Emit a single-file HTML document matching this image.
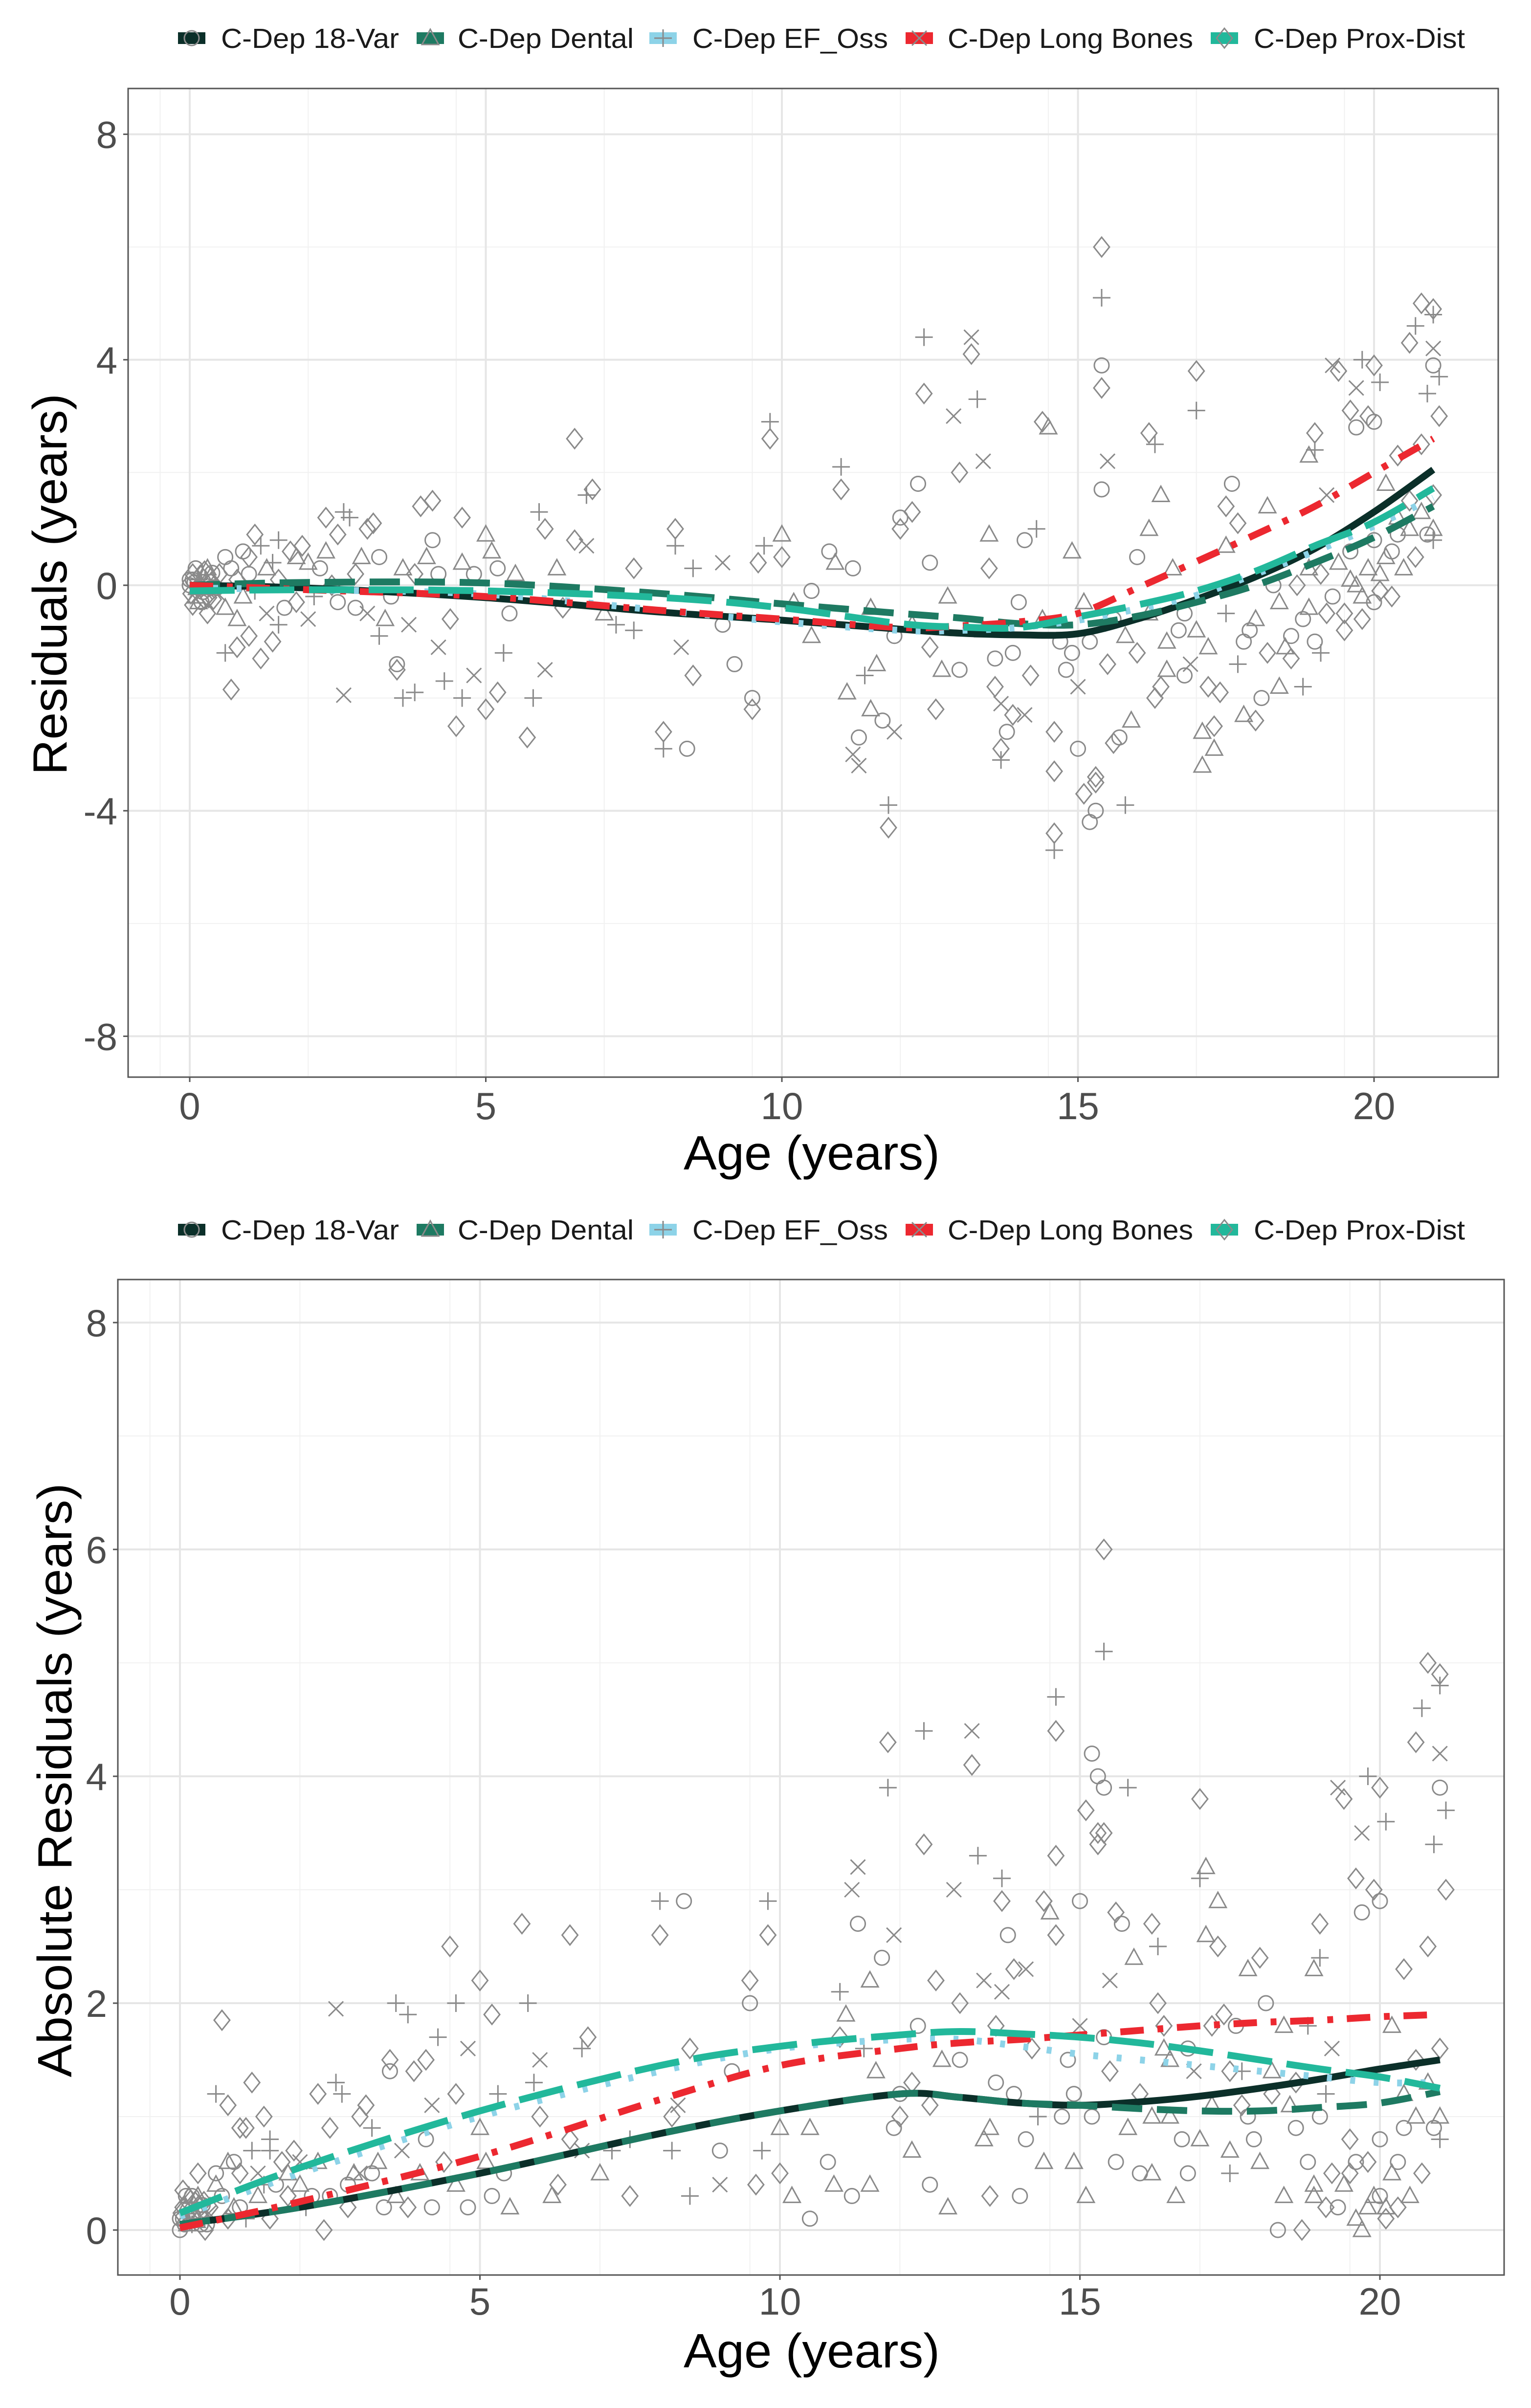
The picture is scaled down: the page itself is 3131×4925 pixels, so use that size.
<!DOCTYPE html>
<html><head><meta charset="utf-8">
<style>
html,body{margin:0;padding:0;background:#fff;}
svg{display:block;}
text{font-family:"Liberation Sans",Arial,sans-serif;}
</style></head>
<body>
<svg id="chart" xmlns="http://www.w3.org/2000/svg" width="3131" height="4925" viewBox="0 0 3131 4925">
<rect width="3131" height="4925" fill="#fff"/>
</svg>
<script>
// ---- data ----
const seriesNames = ["C-Dep 18-Var","C-Dep Dental","C-Dep EF_Oss","C-Dep Long Bones","C-Dep Prox-Dist"];
const seriesShapes = ["o","t","p","x","d"];
const fitAges = [0,2,5,8,10,12,13,14,15,16,17,18,19,20,21];
// top panel: smoothed residuals
const resid18Var   = [0,-0.05,-0.22,-0.48,-0.62,-0.78,-0.85,-0.88,-0.86,-0.6,-0.25,0.15,0.65,1.3,2.05];
const residDental  = [0,0.05,0.04,-0.15,-0.33,-0.5,-0.58,-0.68,-0.7,-0.55,-0.3,0.0,0.4,0.85,1.4];
const residEFOss   = [-0.05,-0.08,-0.16,-0.45,-0.65,-0.8,-0.8,-0.75,-0.62,-0.42,-0.18,0.2,0.6,1.05,1.55];
const residLong    = [0,-0.08,-0.2,-0.45,-0.6,-0.75,-0.72,-0.65,-0.5,-0.05,0.42,0.9,1.4,2.0,2.6];
const residProx    = [-0.1,-0.08,-0.1,-0.22,-0.4,-0.68,-0.74,-0.75,-0.56,-0.35,-0.1,0.25,0.7,1.12,1.72];
// bottom panel: smoothed absolute residuals
const abs18Var   = [0.05,0.2,0.5,0.85,1.05,1.2,1.17,1.12,1.1,1.13,1.18,1.25,1.33,1.42,1.5];
const absDental  = [0.05,0.2,0.5,0.85,1.05,1.2,1.17,1.12,1.1,1.07,1.05,1.05,1.08,1.12,1.22];
const absEFOss   = [0.12,0.5,1.0,1.4,1.6,1.68,1.68,1.62,1.55,1.5,1.45,1.4,1.35,1.3,1.3];
const absLong    = [0.02,0.25,0.65,1.15,1.45,1.6,1.65,1.68,1.72,1.76,1.8,1.83,1.85,1.88,1.9];
const absProx    = [0.15,0.55,1.05,1.45,1.62,1.72,1.75,1.73,1.7,1.65,1.58,1.5,1.42,1.35,1.25];
// scatter observations
const ptAge = [0,0.05,0.1,0.15,0.2,0.25,0.3,0.35,0.4,0.1,0.2,0.3,0.45,0.5,0.05,0.6,0.7,0.8,0.9,1.0,1.1,1.3,1.5,1.6,1.8,2.1,2.4,2.9,3.0,3.4,3.8,4.4,4.8,
0.7,0.6,0.8,1.0,1.2,1.4,1.5,1.3,1.0,1.2,1.5,1.7,2.0,2.2,2.3,2.5,2.6,2.7,2.6,3.0,3.1,3.2,3.3,3.5,3.5,3.6,3.8,3.9,4.1,4.0,4.2,4.3,4.5,4.6,4.6,4.8,5.0,5.2,5.3,5.1,5.0,5.2,5.7,5.8,5.9,6.0,6.0,6.5,6.5,6.7,6.8,6.7,7.2,7.5,7.5,8.0,8.0,8.4,8.2,8.2,8.5,8.5,8.3,9.0,9.2,9.5,9.5,9.6,9.7,9.8,9.8,10.0,10.0,10.5,10.9,10.8,11.0,11.0,11.1,11.2,11.3,11.3,11.4,11.5,11.6,11.7,11.8,11.8,11.9,12.0,12.0,12.2,12.4,12.4,12.3,12.5,12.6,12.8,12.9,13.0,13.2,13.2,13.3,13.4,13.5,13.5,13.6,13.6,13.7,13.7,13.7,13.8,13.9,14.1,14.2,14.1,14.3,14.4,14.5,14.6,14.6,14.6,14.6,14.9,14.9,15.0,15.0,15.1,15.2,15.3,15.3,15.3,15.4,15.4,15.4,15.4,15.4,15.5,15.6,15.7,15.8,15.9,16.0,16.2,16.2,16.3,16.4,16.3,16.5,16.6,16.8,16.9,17.0,17.0,17.1,17.1,17.3,17.3,17.4,17.5,17.6,17.7,17.8,18.0,18.1,18.3,18.5,18.6,18.8,18.9,19.0,19.0,19.2,19.3,19.4,19.6,19.7,19.7,19.8,19.9,20.0,20.0,20.1,20.0,20.1,20.2,20.4,20.4,20.6,20.7,20.8,20.8,20.9,21.0,21.0,21.0,21.0,21.1,21.1,21.0,21.0,19.5,19.2,19.8,18.8,18.9,19.6,20.3,20.6,17.9,17.2,16.7,15.8,14.7,14.0,12.2,12.7,10.2,9.0,7.0,6.3,5.5,2.8,2.0,1.8,3.6,4.2,16.4,17.7,18.4,19.1,18.2,17.5,16.0,15.2,
17.5,17.8,18.0,18.2,18.4,18.6,18.7,18.9,19.0,19.1,19.3,19.4,19.5,19.6,19.7,19.8,19.9,20.0,20.1,20.2,20.3,20.4,20.5,20.6,20.7,20.8,20.9,21.0,16.5,16.8,17.0,17.2,16.2,15.6,15.5,15.1,14.8,14.4,13.9,13.4,13.0,12.5,11.9,11.5,11.2,10.5,
1.1,1.4,1.9,2.3,2.5,2.8,3.2,3.7,4.1,4.6,5.4,6.2,0.6,0.8,0.3,0.9,
0,0.02,0.08,0.12,0.18,0.22,0.28,0.32,0.38,0.42,0.15,0.25,0.35,0.05,0.48];
const ptRes = [0,0.2,-0.2,0.1,-0.3,0.25,-0.1,0.15,-0.25,0.3,0.05,0.3,-0.05,0.2,-0.35,-0.4,0.3,0.1,-0.2,0.2,-0.1,0.3,0.1,-0.4,0.5,-0.2,0,0.5,-0.5,-0.2,0.2,-0.6,0.2,
-1.85,-1.2,-1.1,-0.9,-1.3,-1.0,-0.7,-0.5,0.5,0.7,0.8,0.6,0.4,0.3,1.2,0.9,1.3,1.2,-1.95,1.0,1.1,0.5,-0.6,-1.4,-1.5,-2.0,-1.9,1.4,1.5,0.5,-1.1,-1.7,-2.5,1.2,-2.0,-1.6,-2.2,-1.9,-1.2,0.6,0.9,0.3,-2.7,-2.0,1.3,1.0,-1.5,2.6,0.8,1.6,1.7,0.7,-0.7,-0.8,0.3,-2.9,-2.6,-2.9,1.0,0.7,0.3,-1.6,-1.1,0.4,-1.4,-2.0,-2.2,0.4,0.7,2.6,2.9,0.9,0.5,-0.1,0.4,0.6,2.1,1.7,-1.9,-3.0,-3.2,-2.7,-1.6,-2.2,-1.4,-2.4,-4.3,-3.9,-2.6,1.0,1.2,1.3,3.4,4.4,1.8,0.4,-2.2,-0.2,3.0,2.0,4.1,4.4,3.3,2.2,0.9,0.3,-1.3,-1.8,-2.1,-2.9,-3.1,-2.6,-2.3,-2.3,-1.6,0.8,1.0,2.9,2.8,-2.6,-3.3,-4.4,-4.7,0.6,-1.2,-1.8,-2.9,-3.7,-4.2,-3.4,-4.0,-3.5,6.0,5.1,3.9,3.5,1.7,2.2,-2.8,-2.7,-3.9,-2.4,0.5,1.0,2.7,2.5,1.6,-2.0,-1.5,0.3,-0.5,-1.4,3.8,3.1,-2.6,-3.2,-2.9,-2.5,-1.9,0.7,1.8,1.1,-2.3,-2.4,-2.0,0,-1.1,-1.3,-1.8,2.3,2.7,2.4,1.6,3.9,3.8,3.1,2.8,3.5,4.0,3.0,3.9,2.9,3.6,-0.3,0.2,1.8,1.2,2.3,4.3,4.6,5.0,2.5,3.4,4.9,4.8,4.2,3.9,3.7,3.0,1.0,0.8,-0.8,-0.5,-0.2,-0.6,0.3,0.1,0.6,1.0,-0.8,-1.1,-0.8,-0.9,-1.0,-0.3,-0.7,-1.5,-0.3,-0.7,-0.5,-0.4,0.2,-0.4,-0.6,-0.3,0.3,0.2,-1.8,-1.4,-1.8,-1.2,1.4,1.4,-1.2,-1.0,
-0.5,-1.0,-0.6,-1.2,-0.3,-0.9,0.0,-0.4,-1.0,0.2,-0.2,0.4,-0.5,0.6,0.0,-0.6,0.3,0.8,-0.1,0.5,-0.2,0.9,0.3,1.5,0.5,1.3,0.9,1.6,-1.0,-1.6,-0.8,-1.8,-0.5,-0.6,-1.4,-0.3,-1.5,-0.6,-1.2,-0.8,-1.5,-1.1,-0.9,-0.4,0.3,-0.9,
0.9,0.4,0.7,0.6,-0.3,0.2,-0.9,-0.7,0.8,0.4,-0.5,0.3,0.5,-0.6,-0.5,0.6,
0.1,-0.15,0.05,-0.05,0.18,-0.12,0.08,-0.22,0.22,0.0,-0.3,-0.25,-0.05,0.1,-0.15];
const ptShape = ["o","d","t","p","o","d","x","t","d","o","p","t","o","d","d","t","o","d","t","o","p","t","d","o","t","p","d","t","x","o","d","d","o",
"d","p","d","d","d","d","p","x","d","p","p","d","t","o","d","d","p","p","x","d","d","o","t","o","d","p","p","d","d","t","x","p","d","d","p","x","d","d","p","t","t","o","d","p","p","d","x","d","d","p","d","x","p","p","d","p","d","o","d","p","p","d","x","x","o","o","d","d","p","d","p","t","d","o","t","o","p","d","t","x","x","o","p","t","t","o","d","p","x","d","o","d","d","p","o","o","d","t","x","d","d","x","p","x","t","d","o","d","x","d","p","o","d","x","d","o","p","d","t","d","d","d","p","t","o","x","o","d","o","d","o","d","d","p","o","d","o","x","d","o","p","t","o","t","d","p","t","d","t","t","o","x","d","p","t","t","t","d","d","t","o","d","t","d","o","o","t","d","p","t","d","p","x","x","d","d","o","x","p","d","d","o","p","o","t","t","t","d","d","p","d","d","p","d","p","x","o","p","d","t","p","d","d","t","o","t","t","o","t","o","t","o","t","o","o","t","t","t","o","t","d","t","o","x","d","t","o","d","p","t","p","t","d","d","o","p",
"o","t","d","t","o","d","t","o","d","o","t","d","o","t","d","t","o","d","t","d","o","t","d","d","t","o","d","t","o","t","d","t","o","d","t","o","t","o","t","o","d","o","t","o","t","d",
"p","d","t","o","d","p","x","o","t","o","t","o","t","d","o","o",
"d","o","t","d","o","t","d","o","d","t","d","o","o","x","d"];
const xTicks = [0,5,10,15,20];
const yTicksTop = [-8,-4,0,4,8];
const yTicksBot = [0,2,4,6,8];

const NS="http://www.w3.org/2000/svg";
const svg=document.getElementById('chart');
function mk(tag,attrs,parent){const e=document.createElementNS(NS,tag);for(const k in attrs)e.setAttribute(k,attrs[k]);(parent||svg).appendChild(e);return e;}

const colors=["#0b2f29","#1e7a62","#8dd3e8","#ec2830","#22b89b"];
const dashes=["none","62 30","10 38","48 28 12 28","92 30"];

function smoothPath(pts){
  let d="M"+pts[0][0]+","+pts[0][1];
  for(let i=0;i<pts.length-1;i++){
    const p0=pts[Math.max(0,i-1)],p1=pts[i],p2=pts[i+1],p3=pts[Math.min(pts.length-1,i+2)];
    const c1x=p1[0]+(p2[0]-p0[0])/6,c1y=p1[1]+(p2[1]-p0[1])/6;
    const c2x=p2[0]-(p3[0]-p1[0])/6,c2y=p2[1]-(p3[1]-p1[1])/6;
    d+=" C"+c1x.toFixed(1)+","+c1y.toFixed(1)+" "+c2x.toFixed(1)+","+c2y.toFixed(1)+" "+p2[0].toFixed(1)+","+p2[1].toFixed(1);
  }
  return d;
}

function marker(g,shape,cx,cy){
  const st={fill:"none",stroke:"#8a8a8a","stroke-width":3};
  let e;
  const r=15;
  if(shape==="o") e=mk('circle',Object.assign({cx:cx,cy:cy,r:r},st),g);
  else if(shape==="t") e=mk('polygon',Object.assign({points:`${cx},${cy-r-3} ${cx-r-2},${cy+r-2} ${cx+r+2},${cy+r-2}`},st),g);
  else if(shape==="d") e=mk('polygon',Object.assign({points:`${cx},${cy-r-5} ${cx+r+1},${cy} ${cx},${cy+r+5} ${cx-r-1},${cy}`},st),g);
  else if(shape==="p") e=mk('path',Object.assign({d:`M${cx-r-3},${cy}H${cx+r+3}M${cx},${cy-r-3}V${cy+r+3}`},st),g);
  else e=mk('path',Object.assign({d:`M${cx-r},${cy-r}L${cx+r},${cy+r}M${cx-r},${cy+r}L${cx+r},${cy-r}`},st),g);
  return e;
}

function legend(y,prefix){
  const g=mk('g',{});
  
  
  const keyX=[364,852,1328,1852,2476];
  const txtX=[452,936,1416,1938,2564];
  const txtW=[364,360,400,502,432];
  for(let i=0;i<5;i++){
    const k=mk('g',{},g);
    
    
    mk('rect',{x:keyX[i],y:y-12,width:56,height:24,fill:colors[i]},k);
    marker(k,seriesShapes[i],keyX[i]+28,y);
    const t=mk('text',{x:txtX[i],y:y+20,"font-size":57,fill:"#1a1a1a",textLength:txtW[i],lengthAdjust:"spacingAndGlyphs"},k);
    t.textContent=seriesNames[i];
  }
}

function panel(cfg){
  const {L,R,T,B,x0,xu,y0,yu,yTicks,minorY,series,absMode,prefix,ytitle,ytitleX,ytitleY,ytitleLen,xtitleY,xlabY}=cfg;
  const X=v=>x0+v*xu, Y=v=>y0-v*yu;
  const g=mk('g',{});
  
  
  const grid=mk('g',{},g);
  
  
  for(let v=-0.5;v<=21;v+=2.5){ if(v%5!==0 && X(v)>L && X(v)<R) mk('line',{x1:X(v),x2:X(v),y1:T,y2:B,stroke:"#f1f1f1","stroke-width":2},grid);}
  minorY.forEach(v=>mk('line',{x1:L,x2:R,y1:Y(v),y2:Y(v),stroke:"#f1f1f1","stroke-width":2},grid));
  xTicks.forEach(v=>mk('line',{x1:X(v),x2:X(v),y1:T,y2:B,stroke:"#e6e6e6","stroke-width":4},grid));
  yTicks.forEach(v=>mk('line',{x1:L,x2:R,y1:Y(v),y2:Y(v),stroke:"#e6e6e6","stroke-width":4},grid));
  const pg=mk('g',{},g);
  
  
  for(let i=0;i<ptAge.length;i++){
    const v=absMode?Math.abs(ptRes[i]):ptRes[i];
    const m=marker(pg,ptShape[i]||"o",X(ptAge[i]),Y(v));
    
    
  }
  series.forEach((s,i)=>{
    const pts=fitAges.map((a,j)=>[X(a),Y(s[j])]);
    const p=mk('path',{d:smoothPath(pts),fill:"none",stroke:colors[i],"stroke-width":14,"stroke-dasharray":dashes[i]},g);
    
    
  });
  const bd=mk('rect',{x:L,y:T,width:R-L,height:B-T,fill:"none",stroke:"#555","stroke-width":3},g);
  
  
  xTicks.forEach(v=>{
    mk('line',{x1:X(v),x2:X(v),y1:B,y2:B+10,stroke:"#555","stroke-width":3},g);
    const t=mk('text',{x:X(v),y:xlabY,"font-size":78,fill:"#4d4d4d","text-anchor":"middle"},g);
    
    
    t.textContent=v;
  });
  yTicks.forEach(v=>{
    mk('line',{x1:L-10,x2:L,y1:Y(v),y2:Y(v),stroke:"#555","stroke-width":3},g);
    const t=mk('text',{x:L-22,y:Y(v)+28,"font-size":78,fill:"#4d4d4d","text-anchor":"end"},g);
    
    
    t.textContent=v;
  });
  const xt=mk('text',{x:1660,y:xtitleY,"font-size":98,fill:"#000","text-anchor":"middle",textLength:524,lengthAdjust:"spacingAndGlyphs"},g);
  
  
  xt.textContent="Age (years)";
  const yt=mk('text',{x:0,y:0,"font-size":98,fill:"#000","text-anchor":"middle",textLength:ytitleLen,lengthAdjust:"spacingAndGlyphs",transform:`translate(${ytitleX},${ytitleY}) rotate(-90)`},g);
  
  
  yt.textContent=ytitle;
}

legend(78,'top');
panel({L:262,R:3064,T:181,B:2203,x0:388,xu:121.1,y0:1197,yu:115.3,yTicks:yTicksTop,minorY:[-6,-2,2,6],
  series:[resid18Var,residDental,residEFOss,residLong,residProx],absMode:false,prefix:'top',
  ytitle:"Residuals (years)",ytitleX:136,ytitleY:1195,ytitleLen:780,xtitleY:2392,xlabY:2289});
legend(2515,'bottom');
panel({L:241,R:3076,T:2617,B:4653,x0:368,xu:122.7,y0:4561,yu:232,yTicks:yTicksBot,minorY:[1,3,5,7],
  series:[abs18Var,absDental,absEFOss,absLong,absProx],absMode:true,prefix:'bottom',
  ytitle:"Absolute Residuals (years)",ytitleX:146,ytitleY:3641,ytitleLen:1215,xtitleY:4842,xlabY:4734});
</script>
</body></html>
